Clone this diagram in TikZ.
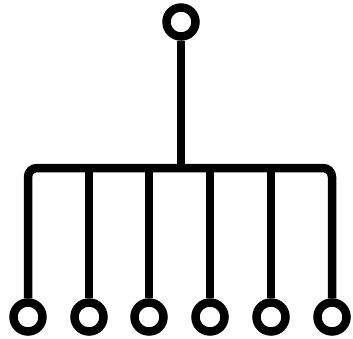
\documentclass[tikz,border=0pt]{standalone}
\begin{document}
\begin{tikzpicture}[x=1pt, y=1pt, line width=8.5pt, every node/.style={shape=circle,draw,inner sep=0pt,minimum size=29pt}]
    \useasboundingbox (0,0) rectangle (353,338);
    \node (r) at (181,316) {};
    \node (1) at (28,21) {};
    \node (2) at (89,21) {};
    \node (3) at (149,21) {};
    \node (4) at (210,21) {};
    \node (5) at (271,21) {};
    \node (6) at (332,21) {};
    \coordinate (bar) at (179,170);

    \draw (r) -- (r|-bar);
    \draw[rounded corners=9pt] (1) -- (1|-bar) -- (6|-bar) -- (6);
    \draw (2) -- (2|-bar);
    \draw (3) -- (3|-bar);
    \draw (4) -- (4|-bar);
    \draw (5) -- (5|-bar);
\end{tikzpicture}
\end{document}
